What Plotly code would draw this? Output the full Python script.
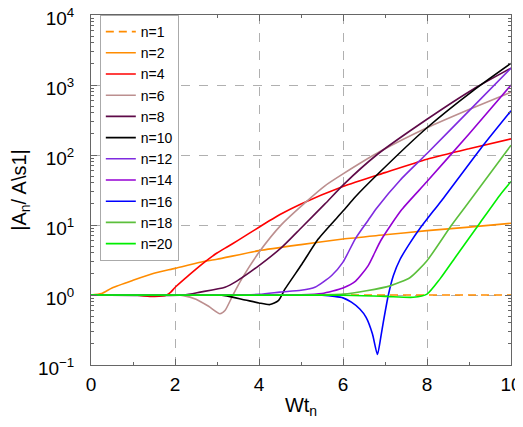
import plotly.graph_objects as go

# curves: time Wt_n and ratio |A_n / A_1|
x_n1 = [0, 10]
y_n1 = [1, 1]

x_n2 = [0, 0.25, 0.5, 1, 1.5, 2, 2.6, 3, 4, 5, 6, 7, 8, 9, 10]
y_n2 = [1, 1.05, 1.26, 1.62, 2.04, 2.4, 2.93, 3.24, 4.3, 5.25, 6.3, 7.24, 8.3, 9.33, 10.6]

x_n4 = [0, 1.1, 1.4, 1.7, 1.8, 1.9, 2, 2.25, 2.5, 2.75, 3, 3.25, 3.5, 4, 4.5, 5, 6, 7, 8, 9, 10]
y_n4 = [1, 0.99, 0.955, 0.965, 1.0, 1.1, 1.28, 1.74, 2.34, 3.09, 3.98, 4.9, 6.03, 9.3, 14.1, 20, 35.5, 56, 87, 123, 170]

x_n6 = [0, 2, 2.2, 2.5, 2.8, 3.07, 3.19, 3.38, 3.59, 4, 4.54, 5.1, 5.57, 6, 6.88, 8, 9, 10]
y_n6 = [1, 1, 0.98, 0.87, 0.69, 0.54, 0.6, 1.0, 1.7, 4.07, 10.2, 20.9, 36.3, 53.7, 112, 245, 447, 790]

x_n8 = [0, 2.2, 2.6, 3.19, 3.47, 4, 4.54, 5.02, 5.57, 6, 6.8, 8, 9.1, 10]
y_n8 = [1, 1, 1.1, 1.29, 1.58, 2.63, 4.79, 9.3, 20, 37.2, 100, 324, 871, 1740]

x_n10 = [0, 3, 3.19, 3.67, 4, 4.26, 4.46, 4.62, 5.02, 5.41, 6, 6.29, 6.8, 8, 9.1, 10]
y_n10 = [1, 1, 0.98, 0.85, 0.77, 0.73, 0.83, 1.22, 2.75, 6.3, 15.8, 25.1, 51.3, 245, 832, 2040]

x_n12 = [0, 4, 4.5, 5, 5.33, 5.73, 6, 6.29, 6.6, 6.8, 7.36, 8, 9, 10]
y_n12 = [1, 1.02, 1.1, 1.17, 1.29, 1.9, 2.95, 6.3, 11.7, 17.4, 43.7, 105, 427, 1740]

x_n14 = [0, 5, 5.5, 6, 6.3, 6.6, 6.9, 7.4, 8, 9, 10]
y_n14 = [1, 1.01, 1.05, 1.26, 1.58, 2.63, 6.0, 16.6, 41.7, 200, 1000]

x_n16 = [0, 5, 5.5, 5.8, 6, 6.2, 6.4, 6.55, 6.7, 6.82, 6.9, 6.96, 7.08, 7.2, 7.36, 7.6, 7.83, 8.15, 8.35, 9.29, 10]
y_n16 = [1, 1, 0.99, 0.955, 0.91, 0.79, 0.63, 0.48, 0.28, 0.141, 0.25, 0.41, 1.0, 1.9, 3.24, 5.6, 8.9, 15.8, 22.4, 126, 427]

x_n18 = [0, 5, 6, 6.56, 7.12, 7.6, 8, 8.55, 8.9, 10]
y_n18 = [1, 1, 1.03, 1.15, 1.35, 1.78, 3.09, 9.3, 17.8, 138]

x_n20 = [0, 6, 7, 7.67, 8, 8.31, 8.71, 9.26, 9.74, 10]
y_n20 = [1, 0.99, 0.955, 0.927, 1.03, 1.7, 3.7, 10.7, 26.9, 41.7]

labels = ["n=1", "n=2", "n=4", "n=6", "n=8", "n=10", "n=12", "n=14", "n=16", "n=18", "n=20"]
colors = ["#ff8c00", "#ff8c00", "#ff0000", "#bc8f8f", "#5e0a48", "#000000",
          "#7f2be0", "#9400d3", "#0000ff", "#5cbf3c", "#00ee00"]
xs = [x_n1, x_n2, x_n4, x_n6, x_n8, x_n10, x_n12, x_n14, x_n16, x_n18, x_n20]
ys = [y_n1, y_n2, y_n4, y_n6, y_n8, y_n10, y_n12, y_n14, y_n16, y_n18, y_n20]

y_tickvals = [0.1, 1, 10, 100, 1000, 10000]
y_ticktext = ["10<sup>\u22121</sup>", "10<sup>0</sup>", "10<sup>1</sup>",
              "10<sup>2</sup>", "10<sup>3</sup>", "10<sup>4</sup>"]
y_minor = [k * 10 ** e for e in range(-1, 4) for k in range(2, 10)]
x_tickvals = [0, 2, 4, 6, 8, 10]
x_minor = [1, 3, 5, 7, 9]

fig = go.Figure()
for i, lab in enumerate(labels):
    fig.add_trace(go.Scatter(
        x=xs[i], y=ys[i], mode="lines", name=lab,
        line=dict(color=colors[i], width=1.6, shape="spline", smoothing=0.6,
                  dash="8px,5px" if lab == "n=1" else "solid"),
    ))

font = "Liberation Sans, Arial, Helvetica, sans-serif"
axis_common = dict(
    showline=True, linecolor="#666", linewidth=1, mirror="allticks",
    ticks="inside", ticklen=6, tickcolor="#666",
    showgrid=True, gridcolor="#b0b0b0", griddash="dash", gridwidth=1,
    zeroline=False, automargin=False, ticklabeloverflow="allow",
    tickfont=dict(family=font, size=19, color="black"),
)

fig.update_xaxes(
    range=[0, 10], tickmode="array", tickvals=x_tickvals,
    minor=dict(tickmode="array", tickvals=x_minor, ticks="inside", ticklen=3,
               tickcolor="#666", showgrid=False),
    title=dict(text="Wt<sub>n</sub>", font=dict(family=font, size=20, color="black"), standoff=13),
    ticklabelstandoff=2,
    **axis_common,
)
fig.update_yaxes(
    type="log", range=[-1, 4], tickmode="array", tickvals=y_tickvals, ticktext=y_ticktext,
    minor=dict(tickmode="array", tickvals=y_minor, ticks="inside", ticklen=3,
               tickcolor="#666", showgrid=False),
    title=dict(text="|A<sub>n</sub>/ A\\s1|", font=dict(family=font, size=20, color="black"), standoff=17),
    ticklabelstandoff=12, ticklabelshift=3,  # nudge labels down so 10^4 stays on the page
    **axis_common,
)

# the page puts the figure 8px in from the corner, so size it to fit the window
fig.update_layout(
    width=515, height=411,
    margin=dict(l=83, r=12, t=7, b=54),
    paper_bgcolor="white", plot_bgcolor="white",
    font=dict(family=font, color="black"),
    legend=dict(
        x=0.021, y=1.0, xanchor="left", yanchor="top",
        bgcolor="white", bordercolor="#aaaaaa", borderwidth=1,
        font=dict(family=font, size=14), itemwidth=30,
    ),
)

fig.write_html("out.html")
